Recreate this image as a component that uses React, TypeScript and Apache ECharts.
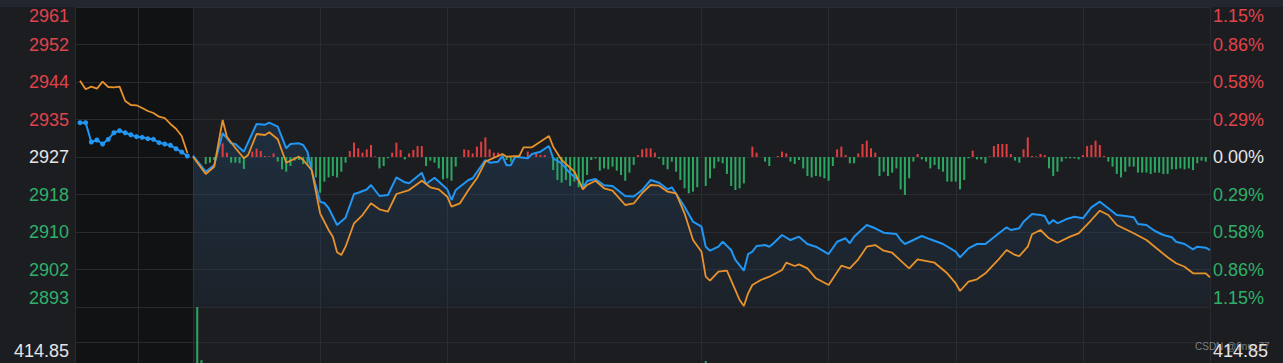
import React, { useEffect, useRef } from "react";
import * as echarts from "echarts";

// ---- reference values ----
const PREV_CLOSE = 2926.87;
const STEP_PCT = 0.2875; // percent per horizontal grid band
const PRICE_TICKS = ["2893", "2902", "2910", "2918", "2927", "2935", "2944", "2952", "2961"];
const PCT_TICKS = ["1.15%", "0.86%", "0.58%", "0.29%", "0.00%", "0.29%", "0.58%", "0.86%", "1.15%"];
const VOLUME_TICK = 414.85;
const WATERMARK = "CSDN @9nu_77";

// call auction (9:15 - 9:25, every 30 s)
const PRE_BLUE = [
  2934.57, 2934.57, 2930.24, 2930.68, 2929.79, 2930.84, 2932.32, 2932.77, 2932.32, 2931.87,
  2931.43, 2931.29, 2930.98, 2930.84, 2930.08, 2929.79, 2929.5, 2928.73, 2927.99, 2927.09,
];
const PRE_ORANGE = [
  2943.99, 2942.06, 2942.65, 2942.2, 2943.77, 2942.58, 2942.51, 2942.65, 2939.44, 2938.54,
  2938.47, 2937.87, 2937.19, 2936.74, 2935.91, 2935.62, 2934.28, 2933.22, 2931.58, 2927.77,
];

// trading session: [minute from 9:30, price]
const TRADE_BLUE = [
  [0, 2927.16], [3, 2923.57], [5, 2925.07], [7, 2932.19], [8, 2931.13], [9, 2929.94], [10, 2929.79], [12, 2928.06],
  [15, 2934.28], [17, 2934.12], [18, 2934.57], [20, 2933.67], [22, 2928.82], [23, 2929.79], [25, 2929.94], [26, 2929.56],
  [27, 2928.06], [28, 2923.95], [30, 2916.84], [31, 2916.55], [32, 2915.43], [34, 2911.61], [36, 2913.25], [38, 2918.57],
  [39, 2918.86], [41, 2919.58], [42, 2920.59], [44, 2918.12], [46, 2918.34], [48, 2922.31], [50, 2921.19], [51, 2920.97],
  [54, 2923.35], [55, 2920.81], [57, 2922.22], [60, 2919.62], [61, 2917.22], [62, 2919.46], [65, 2921.71], [66, 2922.09],
  [69, 2926.2], [70, 2925.59], [72, 2925.82], [73, 2927.09], [74, 2925.01], [75, 2925.01], [76, 2926.94], [79, 2926.58],
  [80, 2927.54], [82, 2928.06], [84, 2929.34], [85, 2926.58], [87, 2925.46], [89, 2923.21], [91, 2921.71], [92, 2919.85],
  [93, 2921.48], [95, 2921.93], [97, 2920.52], [99, 2920.36], [102, 2918.12], [104, 2918.01], [106, 2919.46], [108, 2921.71],
  [110, 2921.1], [112, 2919.62], [113, 2920.07], [116, 2915.72], [118, 2912.35], [120, 2911.23], [121, 2906.74], [122, 2905.84],
  [124, 2906.74], [125, 2907.86], [127, 2906.0], [128, 2903.76], [130, 2901.36], [131, 2905.1], [132, 2905.62], [133, 2906.9],
  [135, 2907.12], [136, 2906.74], [137, 2907.5], [139, 2909.37], [141, 2908.24], [143, 2908.99], [145, 2907.35], [147, 2906.74],
  [150, 2905.1], [152, 2907.86], [154, 2908.63], [155, 2907.5], [156, 2908.99], [159, 2911.61], [161, 2910.87], [163, 2909.88],
  [166, 2909.59], [167, 2908.24], [168, 2907.35], [170, 2908.24], [172, 2909.14], [174, 2908.4], [177, 2907.35], [180, 2905.62],
  [181, 2904.36], [183, 2906.38], [185, 2907.35], [187, 2907.35], [189, 2908.85], [192, 2911.09], [193, 2910.49], [195, 2910.87],
  [196, 2912.35], [198, 2914.08], [200, 2913.85], [201, 2913.63], [202, 2911.84], [203, 2912.73], [204, 2911.99], [206, 2912.89],
  [208, 2913.47], [210, 2913.11], [212, 2915.58], [214, 2916.84], [216, 2915.36], [218, 2913.85], [220, 2913.63], [222, 2913.34],
  [223, 2911.84], [225, 2911.61], [227, 2910.26], [229, 2909.37], [231, 2908.85], [232, 2907.86], [234, 2907.35], [236, 2906.16],
  [237, 2906.74], [239, 2906.52], [240, 2906.0],
];
const TRADE_ORANGE = [
  [0, 2926.94], [3, 2923.06], [5, 2924.69], [7, 2935.17], [8, 2931.43], [10, 2928.89], [12, 2926.58], [13, 2927.32],
  [15, 2932.03], [17, 2931.81], [18, 2932.41], [20, 2930.84], [22, 2925.59], [25, 2926.94], [26, 2926.2], [28, 2923.95],
  [30, 2914.24], [32, 2910.49], [33, 2908.99], [34, 2905.48], [35, 2904.88], [36, 2906.74], [38, 2911.99], [40, 2913.85],
  [42, 2916.48], [44, 2915.13], [46, 2914.6], [48, 2918.57], [51, 2919.46], [54, 2921.55], [56, 2920.07], [58, 2919.62],
  [60, 2917.96], [61, 2915.72], [63, 2916.48], [65, 2919.46], [67, 2922.09], [69, 2925.82], [73, 2927.54], [74, 2926.94],
  [77, 2927.09], [78, 2929.05], [80, 2929.05], [84, 2931.58], [85, 2929.18], [87, 2926.2], [90, 2923.57], [92, 2919.62],
  [93, 2920.59], [95, 2921.55], [97, 2919.85], [99, 2919.31], [102, 2916.1], [104, 2916.44], [106, 2918.79], [108, 2920.59],
  [110, 2920.43], [112, 2919.08], [114, 2918.72], [116, 2914.24], [118, 2908.24], [120, 2905.62], [121, 2900.01], [122, 2899.11],
  [124, 2901.13], [126, 2901.36], [128, 2897.02], [129, 2894.78], [130, 2893.43], [131, 2896.28], [132, 2898.15], [134, 2899.27],
  [136, 2900.01], [139, 2901.51], [140, 2903.15], [142, 2902.41], [143, 2902.79], [145, 2901.89], [147, 2899.65], [150, 2898.15],
  [153, 2902.48], [155, 2901.89], [157, 2903.91], [159, 2906.74], [161, 2907.12], [163, 2905.84], [165, 2905.39], [167, 2903.6],
  [169, 2901.89], [171, 2903.91], [175, 2903.15], [178, 2900.77], [180, 2898.53], [181, 2896.8], [183, 2898.89], [185, 2899.43],
  [187, 2900.77], [190, 2903.76], [192, 2906.0], [194, 2904.88], [195, 2904.65], [197, 2906.74], [198, 2909.52], [200, 2910.49],
  [202, 2908.63], [204, 2907.64], [207, 2908.99], [209, 2909.75], [212, 2912.73], [214, 2914.82], [216, 2913.85], [218, 2911.61],
  [222, 2909.75], [225, 2908.24], [230, 2904.36], [232, 2903.02], [234, 2902.25], [236, 2900.77], [239, 2900.77], [240, 2899.87],
];

// red / green indicator bars around the zero line: [minute, value]
const DIFF_BARS = [
  [3, -4.7], [4, -3.8], [5, -2], [7, 9.1], [8, 2.9], [9, -3.8], [10, -3.8], [11, -4.2], [12, -8], [14, 3.6], [15, 5.6], [16, 4],
  [17, 0.7], [18, 0.4], [19, 2.4], [20, -3.1], [21, -8.2], [22, -9.8], [23, -6], [24, -2.4], [25, -2], [26, -4.7], [27, -5.3],
  [28, -7.6], [29, -13.6], [30, -23.8], [31, -16.4], [32, -13.6], [33, -12.7], [34, -13.6], [35, -9.8], [36, -3.8], [37, 4],
  [38, 9.6], [39, 5.8], [40, 2.9], [41, 5.1], [42, 8], [43, 0.4], [44, -7.6], [45, -6], [46, -0.9], [47, 2.9], [48, 9.6],
  [49, 4.7], [50, -1.6], [51, 2.4], [52, 4.7], [53, 7.3], [54, 7.3], [55, -6], [56, -2.4], [57, -3.8], [58, -7.6], [59, -14.9],
  [60, -14.2], [61, -15.8], [62, -6.4], [64, 5.1], [65, 4.7], [66, 2.4], [67, 6.9], [68, 10.2], [69, 13.1], [70, 5.1], [71, 2.9],
  [72, 2.9], [73, 1.1], [74, -2], [75, -3.1], [76, -0.9], [77, 1.1], [79, 3.6], [81, 2.9], [82, 1.3], [83, 1.3], [85, -8.7],
  [86, -15.3], [87, -17.1], [88, -15.3], [89, -19.3], [90, -16.4], [91, -20.2], [92, -20.2], [93, -12], [94, -2], [95, -1.1],
  [96, -9.1], [97, -7.6], [98, -8.2], [99, -6.4], [100, -9.1], [101, -12], [102, -15.8], [103, -10.4], [104, -5.3], [105, 1.3],
  [106, 5.1], [107, 5.8], [108, 5.8], [109, 2.9], [110, -1.1], [111, -5.3], [112, -8.2], [113, -3.1], [114, -9.8], [115, -15.3],
  [116, -20.9], [117, -24.2], [118, -23.1], [119, -20.2], [121, -19.3], [122, -14.2], [123, -7.6], [124, -3.1], [125, -4.2],
  [126, -11.3], [127, -19.3], [128, -22], [129, -20.9], [130, -17.6], [132, 6.9], [133, 2.9], [135, -3.1], [136, -6], [138, 0.7],
  [139, 3.6], [140, 2.4], [141, -3.1], [142, -4.7], [143, -2], [144, -7.6], [145, -12.7], [146, -13.6], [147, -12.7], [148, -13.1],
  [149, -14.2], [150, -15.8], [151, -6], [152, 5.1], [153, 6.9], [154, 1.3], [155, -4.2], [156, -4.2], [157, 2.4], [158, 8.7],
  [159, 10.9], [160, 5.8], [161, 2.9], [162, -12.7], [163, -9.8], [164, -12.7], [165, -10.4], [166, -7.6], [167, -21.6],
  [168, -25.3], [169, -14.2], [170, -3.1], [171, 2], [172, -1.6], [173, -3.1], [174, -7.6], [175, -5.3], [176, -8.2], [177, -9.8],
  [178, -16.4], [179, -16.4], [180, -16.4], [181, -21.6], [182, -15.3], [183, -0.9], [184, 4.2], [185, -1.6], [186, -1.6],
  [187, -4.2], [188, 0.4], [189, 7.3], [190, 8.7], [191, 8.7], [192, 8.7], [193, 2], [194, -2.4], [195, -3.8], [196, 5.1],
  [197, 13.1], [198, 0.7], [199, 0.4], [200, 2], [201, 1.3], [202, -7.6], [203, -12.7], [204, -9.8], [205, -3.1], [206, -0.9],
  [207, -0.9], [208, -0.9], [209, -1.6], [210, 1.3], [211, 7.3], [212, 8], [213, 10.9], [214, 8], [215, 0.7], [216, -3.1],
  [217, -6.4], [218, -11.3], [219, -13.6], [220, -9.8], [221, -6.4], [222, -6.4], [223, -10.4], [224, -10.4], [225, -10.4],
  [226, -11.3], [227, -10.4], [228, -10.4], [229, -11.3], [230, -11.3], [231, -8.2], [232, -8.2], [233, -7.6], [234, -8.2],
  [235, -7.6], [236, -8.7], [237, -4.2], [238, -2.4], [239, -3.1],
];

// volume (only the visible bars): [minute, value]
const VOLUME = [[1, 829.7], [2, 200], [121, 190]];

// ---- styles ----
const BG = "#1c1d21";
const PRE_BG = "#111214";
const GRID_LINE = "#292b31";
const BLUE = "#2196f3";
const ORANGE = "#e8922c";
const RED = "#e0434a";
const GREEN = "#2fb06a";
const BAR_RED = "#df3d40";
const BAR_GREEN = "#2aa862";
const WHITE = "#e4e4e6";
const FONT = "Liberation Sans, Arial, Helvetica, sans-serif";

const toUnits = (p: number) => ((p / PREV_CLOSE - 1) * 100) / STEP_PCT;
const signColor = (v: any) => {
  const n = Number(v);
  if (n > 1e-6) return RED;
  if (n < -1e-6) return GREEN;
  return WHITE;
};

export default function App() {
  const ref = useRef<HTMLDivElement>(null);

  useEffect(() => {
    if (!ref.current) return;
    const chart = echarts.init(ref.current, null, { renderer: "svg" });

    const hiddenAxisParts = {
      axisLine: { show: false },
      axisTick: { show: false },
    };
    const splitLine = { show: true, lineStyle: { color: GRID_LINE, width: 1 } };

    const preX = {
      type: "value",
      min: -0.885,
      max: 20,
      interval: 11.15,
      axisLabel: { show: false },
      splitLine,
      ...hiddenAxisParts,
    };
    const tradeX = {
      type: "value",
      min: 0,
      max: 240,
      interval: 30,
      axisLabel: { show: false },
      splitLine,
      ...hiddenAxisParts,
    };
    const priceLabel = {
      fontSize: 18,
      fontFamily: FONT,
      color: signColor,
      verticalAlignMaxLabel: "top",
      verticalAlignMinLabel: "bottom",
    };
    const volLabel = {
      fontSize: 18,
      fontFamily: FONT,
      color: WHITE,
      verticalAlign: "top",
      formatter: (v: number) => (Math.abs(v - VOLUME_TICK) < 0.01 ? VOLUME_TICK.toFixed(2) : ""),
    };
    const gridBase = { outerBoundsMode: "none", containLabel: false };

    const option: any = {
      animation: false,
      backgroundColor: BG,
      graphic: [
        { type: "rect", shape: { x: 0, y: 0, width: 1283, height: 7 }, style: { fill: "#22262e" }, z: 100 },
        {
          type: "text",
          x: 1195,
          y: 341,
          z: 100,
          style: { text: WATERMARK, fill: "rgba(205,205,210,0.55)", fontSize: 10, fontFamily: FONT },
        },
      ],
      grid: [
        { ...gridBase, left: 75, top: 7, width: 118, height: 300, show: true, backgroundColor: PRE_BG, borderWidth: 0 },
        { ...gridBase, left: 193, top: 7, width: 1017, height: 300, show: false },
        { ...gridBase, left: 75, top: 307, width: 118, height: 70, show: true, backgroundColor: PRE_BG, borderWidth: 0 },
        { ...gridBase, left: 193, top: 307, width: 1017, height: 70, show: false },
      ],
      xAxis: [
        { ...preX, gridIndex: 0 },
        { ...tradeX, gridIndex: 1 },
        { ...preX, gridIndex: 2 },
        { ...tradeX, gridIndex: 3 },
      ],
      yAxis: [
        {
          type: "value",
          gridIndex: 0,
          position: "left",
          min: -4,
          max: 4,
          interval: 1,
          axisLabel: { ...priceLabel, margin: 6, formatter: (v: number) => PRICE_TICKS[Math.round(v) + 4] },
          splitLine,
          ...hiddenAxisParts,
        },
        {
          type: "value",
          gridIndex: 1,
          position: "right",
          min: -4,
          max: 4,
          interval: 1,
          axisLabel: { ...priceLabel, margin: 3, formatter: (v: number) => PCT_TICKS[Math.round(v) + 4] },
          splitLine,
          ...hiddenAxisParts,
        },
        {
          type: "value",
          gridIndex: 1,
          min: -100,
          max: 100,
          show: false,
          splitLine: { show: false },
        },
        {
          type: "value",
          gridIndex: 2,
          position: "left",
          min: 0,
          max: VOLUME_TICK * 2,
          interval: VOLUME_TICK,
          axisLabel: { ...volLabel, margin: 6 },
          splitLine,
          ...hiddenAxisParts,
        },
        {
          type: "value",
          gridIndex: 3,
          position: "right",
          min: 0,
          max: VOLUME_TICK * 2,
          interval: VOLUME_TICK,
          axisLabel: { ...volLabel, margin: 3 },
          splitLine,
          ...hiddenAxisParts,
        },
      ],
      series: [
        {
          type: "line",
          xAxisIndex: 0,
          yAxisIndex: 0,
          data: PRE_BLUE.map((p, k) => [k, toUnits(p)]),
          symbol: "circle",
          symbolSize: 5,
          showSymbol: true,
          lineStyle: { color: BLUE, width: 2 },
          itemStyle: { color: BLUE },
          z: 3,
        },
        {
          type: "line",
          xAxisIndex: 0,
          yAxisIndex: 0,
          data: PRE_ORANGE.map((p, k) => [k, toUnits(p)]),
          showSymbol: false,
          lineStyle: { color: ORANGE, width: 1.8 },
          z: 4,
        },
        {
          type: "line",
          xAxisIndex: 1,
          yAxisIndex: 1,
          data: TRADE_BLUE.map(([m, p]) => [m, toUnits(p)]),
          showSymbol: false,
          lineStyle: { width: 0, opacity: 0 },
          areaStyle: {
            origin: "start",
            color: new echarts.graphic.LinearGradient(0, 0, 0, 1, [
              { offset: 0, color: "rgba(40,125,200,0.26)" },
              { offset: 1, color: "rgba(40,125,200,0.07)" },
            ]),
          },
          silent: true,
          z: 1,
        },
        {
          type: "bar",
          xAxisIndex: 1,
          yAxisIndex: 2,
          data: DIFF_BARS,
          barWidth: 2,
          itemStyle: { color: (p: any) => (p.value[1] >= 0 ? BAR_RED : BAR_GREEN) },
          z: 2,
        },
        {
          type: "line",
          xAxisIndex: 1,
          yAxisIndex: 1,
          data: TRADE_BLUE.map(([m, p]) => [m, toUnits(p)]),
          showSymbol: false,
          lineStyle: { color: BLUE, width: 2 },
          z: 3,
        },
        {
          type: "line",
          xAxisIndex: 1,
          yAxisIndex: 1,
          data: TRADE_ORANGE.map(([m, p]) => [m, toUnits(p)]),
          showSymbol: false,
          lineStyle: { color: ORANGE, width: 1.8 },
          z: 4,
        },
        {
          type: "bar",
          xAxisIndex: 3,
          yAxisIndex: 4,
          data: VOLUME,
          barWidth: 2,
          itemStyle: { color: BAR_GREEN },
        },
      ],
    };

    chart.setOption(option);
    return () => chart.dispose();
  }, []);

  return (
    <div
      ref={ref}
      style={{ position: "absolute", left: 0, top: 0, width: 1283, height: 363 }}
    />
  );
}
